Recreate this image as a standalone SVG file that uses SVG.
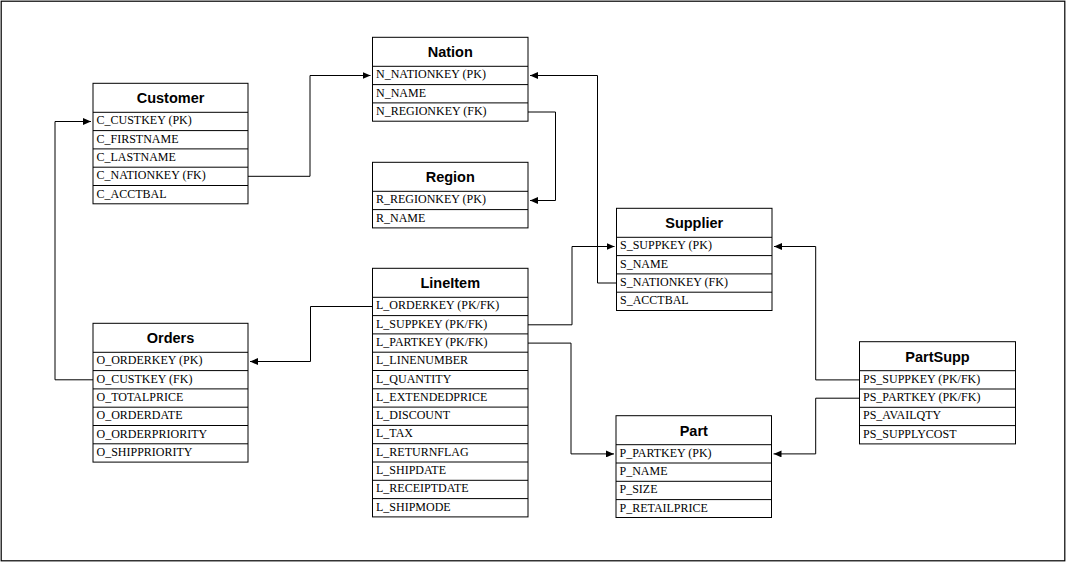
<svg xmlns="http://www.w3.org/2000/svg" width="1066" height="562" viewBox="0 0 1066 562">
<defs>
<style>
.frame{fill:#fff;stroke:#000;stroke-width:1.2}
.box{fill:#fff;stroke:#000;stroke-width:1}
.sep{stroke:#000;stroke-width:1}
.hdr{font-family:"Liberation Sans",Arial,sans-serif;font-weight:bold;font-size:14.5px;text-anchor:middle;fill:#000}
.fld{font-family:"Liberation Serif","Times New Roman",serif;font-size:12px;fill:#000}
.con{fill:none;stroke:#000;stroke-width:1}
</style>
<marker id="arr" markerUnits="userSpaceOnUse" markerWidth="8" markerHeight="7" refX="8" refY="3.5" orient="auto">
<path d="M0,0 L8,3.5 L0,7 z" fill="#000"/>
</marker>
</defs>
<rect class="frame" x="1.2" y="1.2" width="1063.6" height="559.6"/>

<g id="customer">
<rect class="box" x="93" y="83.3" width="155" height="120.5"/>
<path class="sep" d="M93,112.3H248M93,130.6H248M93,148.9H248M93,167.2H248M93,185.5H248"/>
<text class="hdr" x="170.5" y="103.3">Customer</text>
<text class="fld" x="96.5" y="124.3">C_CUSTKEY (PK)</text>
<text class="fld" x="96.5" y="142.6">C_FIRSTNAME</text>
<text class="fld" x="96.5" y="160.9">C_LASTNAME</text>
<text class="fld" x="96.5" y="179.2">C_NATIONKEY (FK)</text>
<text class="fld" x="96.5" y="197.5">C_ACCTBAL</text>
</g>

<g id="nation">
<rect class="box" x="372.5" y="37.3" width="155.5" height="83.9"/>
<path class="sep" d="M372.5,66.3H528M372.5,84.6H528M372.5,102.9H528"/>
<text class="hdr" x="450.25" y="57.3">Nation</text>
<text class="fld" x="376" y="78.3">N_NATIONKEY (PK)</text>
<text class="fld" x="376" y="96.6">N_NAME</text>
<text class="fld" x="376" y="114.9">N_REGIONKEY (FK)</text>
</g>

<g id="region">
<rect class="box" x="372.5" y="162.3" width="155.5" height="65.6"/>
<path class="sep" d="M372.5,191.3H528M372.5,209.6H528"/>
<text class="hdr" x="450.25" y="182.3">Region</text>
<text class="fld" x="376" y="203.3">R_REGIONKEY (PK)</text>
<text class="fld" x="376" y="221.6">R_NAME</text>
</g>

<g id="orders">
<rect class="box" x="93" y="323.3" width="155" height="138.8"/>
<path class="sep" d="M93,352.3H248M93,370.6H248M93,388.9H248M93,407.2H248M93,425.5H248M93,443.8H248"/>
<text class="hdr" x="170.5" y="343.3">Orders</text>
<text class="fld" x="96.5" y="364.3">O_ORDERKEY (PK)</text>
<text class="fld" x="96.5" y="382.6">O_CUSTKEY (FK)</text>
<text class="fld" x="96.5" y="400.9">O_TOTALPRICE</text>
<text class="fld" x="96.5" y="419.2">O_ORDERDATE</text>
<text class="fld" x="96.5" y="437.5">O_ORDERPRIORITY</text>
<text class="fld" x="96.5" y="455.8">O_SHIPPRIORITY</text>
</g>

<g id="lineitem">
<rect class="box" x="372.5" y="268.3" width="155.5" height="248.6"/>
<path class="sep" d="M372.5,297.3H528M372.5,315.6H528M372.5,333.9H528M372.5,352.2H528M372.5,370.5H528M372.5,388.8H528M372.5,407.1H528M372.5,425.4H528M372.5,443.7H528M372.5,462H528M372.5,480.3H528M372.5,498.6H528"/>
<text class="hdr" x="450.25" y="288.3">LineItem</text>
<text class="fld" x="376" y="309.3">L_ORDERKEY (PK/FK)</text>
<text class="fld" x="376" y="327.6">L_SUPPKEY (PK/FK)</text>
<text class="fld" x="376" y="345.9">L_PARTKEY (PK/FK)</text>
<text class="fld" x="376" y="364.2">L_LINENUMBER</text>
<text class="fld" x="376" y="382.5">L_QUANTITY</text>
<text class="fld" x="376" y="400.8">L_EXTENDEDPRICE</text>
<text class="fld" x="376" y="419.1">L_DISCOUNT</text>
<text class="fld" x="376" y="437.4">L_TAX</text>
<text class="fld" x="376" y="455.7">L_RETURNFLAG</text>
<text class="fld" x="376" y="474">L_SHIPDATE</text>
<text class="fld" x="376" y="492.3">L_RECEIPTDATE</text>
<text class="fld" x="376" y="510.6">L_SHIPMODE</text>
</g>

<g id="supplier">
<rect class="box" x="616.5" y="208.3" width="155.5" height="102.2"/>
<path class="sep" d="M616.5,237.3H772M616.5,255.6H772M616.5,273.9H772M616.5,292.2H772"/>
<text class="hdr" x="694.25" y="228.3">Supplier</text>
<text class="fld" x="620" y="249.3">S_SUPPKEY (PK)</text>
<text class="fld" x="620" y="267.6">S_NAME</text>
<text class="fld" x="620" y="285.9">S_NATIONKEY (FK)</text>
<text class="fld" x="620" y="304.2">S_ACCTBAL</text>
</g>

<g id="part">
<rect class="box" x="616" y="415.7" width="155.5" height="101.8"/>
<path class="sep" d="M616,444.7H771.5M616,463H771.5M616,481.3H771.5M616,499.6H771.5"/>
<text class="hdr" x="693.75" y="435.7">Part</text>
<text class="fld" x="619.5" y="456.7">P_PARTKEY (PK)</text>
<text class="fld" x="619.5" y="475">P_NAME</text>
<text class="fld" x="619.5" y="493.3">P_SIZE</text>
<text class="fld" x="619.5" y="511.6">P_RETAILPRICE</text>
</g>

<g id="partsupp">
<rect class="box" x="859.5" y="341.7" width="156" height="102.2"/>
<path class="sep" d="M859.5,370.7H1015.5M859.5,389H1015.5M859.5,407.3H1015.5M859.5,425.6H1015.5"/>
<text class="hdr" x="937.5" y="361.7">PartSupp</text>
<text class="fld" x="863" y="382.7">PS_SUPPKEY (PK/FK)</text>
<text class="fld" x="863" y="401">PS_PARTKEY (PK/FK)</text>
<text class="fld" x="863" y="419.3">PS_AVAILQTY</text>
<text class="fld" x="863" y="437.6">PS_SUPPLYCOST</text>
</g>

<g id="connectors">
<path class="con" marker-end="url(#arr)" d="M248,176.3H310V75.5H370.5"/>
<path class="con" marker-end="url(#arr)" d="M528,112H555.5V200.5H530"/>
<path class="con" marker-end="url(#arr)" d="M616.5,283H597.5V75.5H530"/>
<path class="con" marker-end="url(#arr)" d="M528,324.8H572V246.5H614.5"/>
<path class="con" marker-end="url(#arr)" d="M528,343.1H571V453.9H614"/>
<path class="con" marker-end="url(#arr)" d="M859.5,379.9H815.7V246.5H774"/>
<path class="con" marker-end="url(#arr)" d="M859.5,398.2H815.7V453.9H773.5"/>
<path class="con" marker-end="url(#arr)" d="M372.5,306.5H310.5V361.5H250"/>
<path class="con" marker-end="url(#arr)" d="M93,379.8H55V121.5H91"/>
</g>
</svg>
